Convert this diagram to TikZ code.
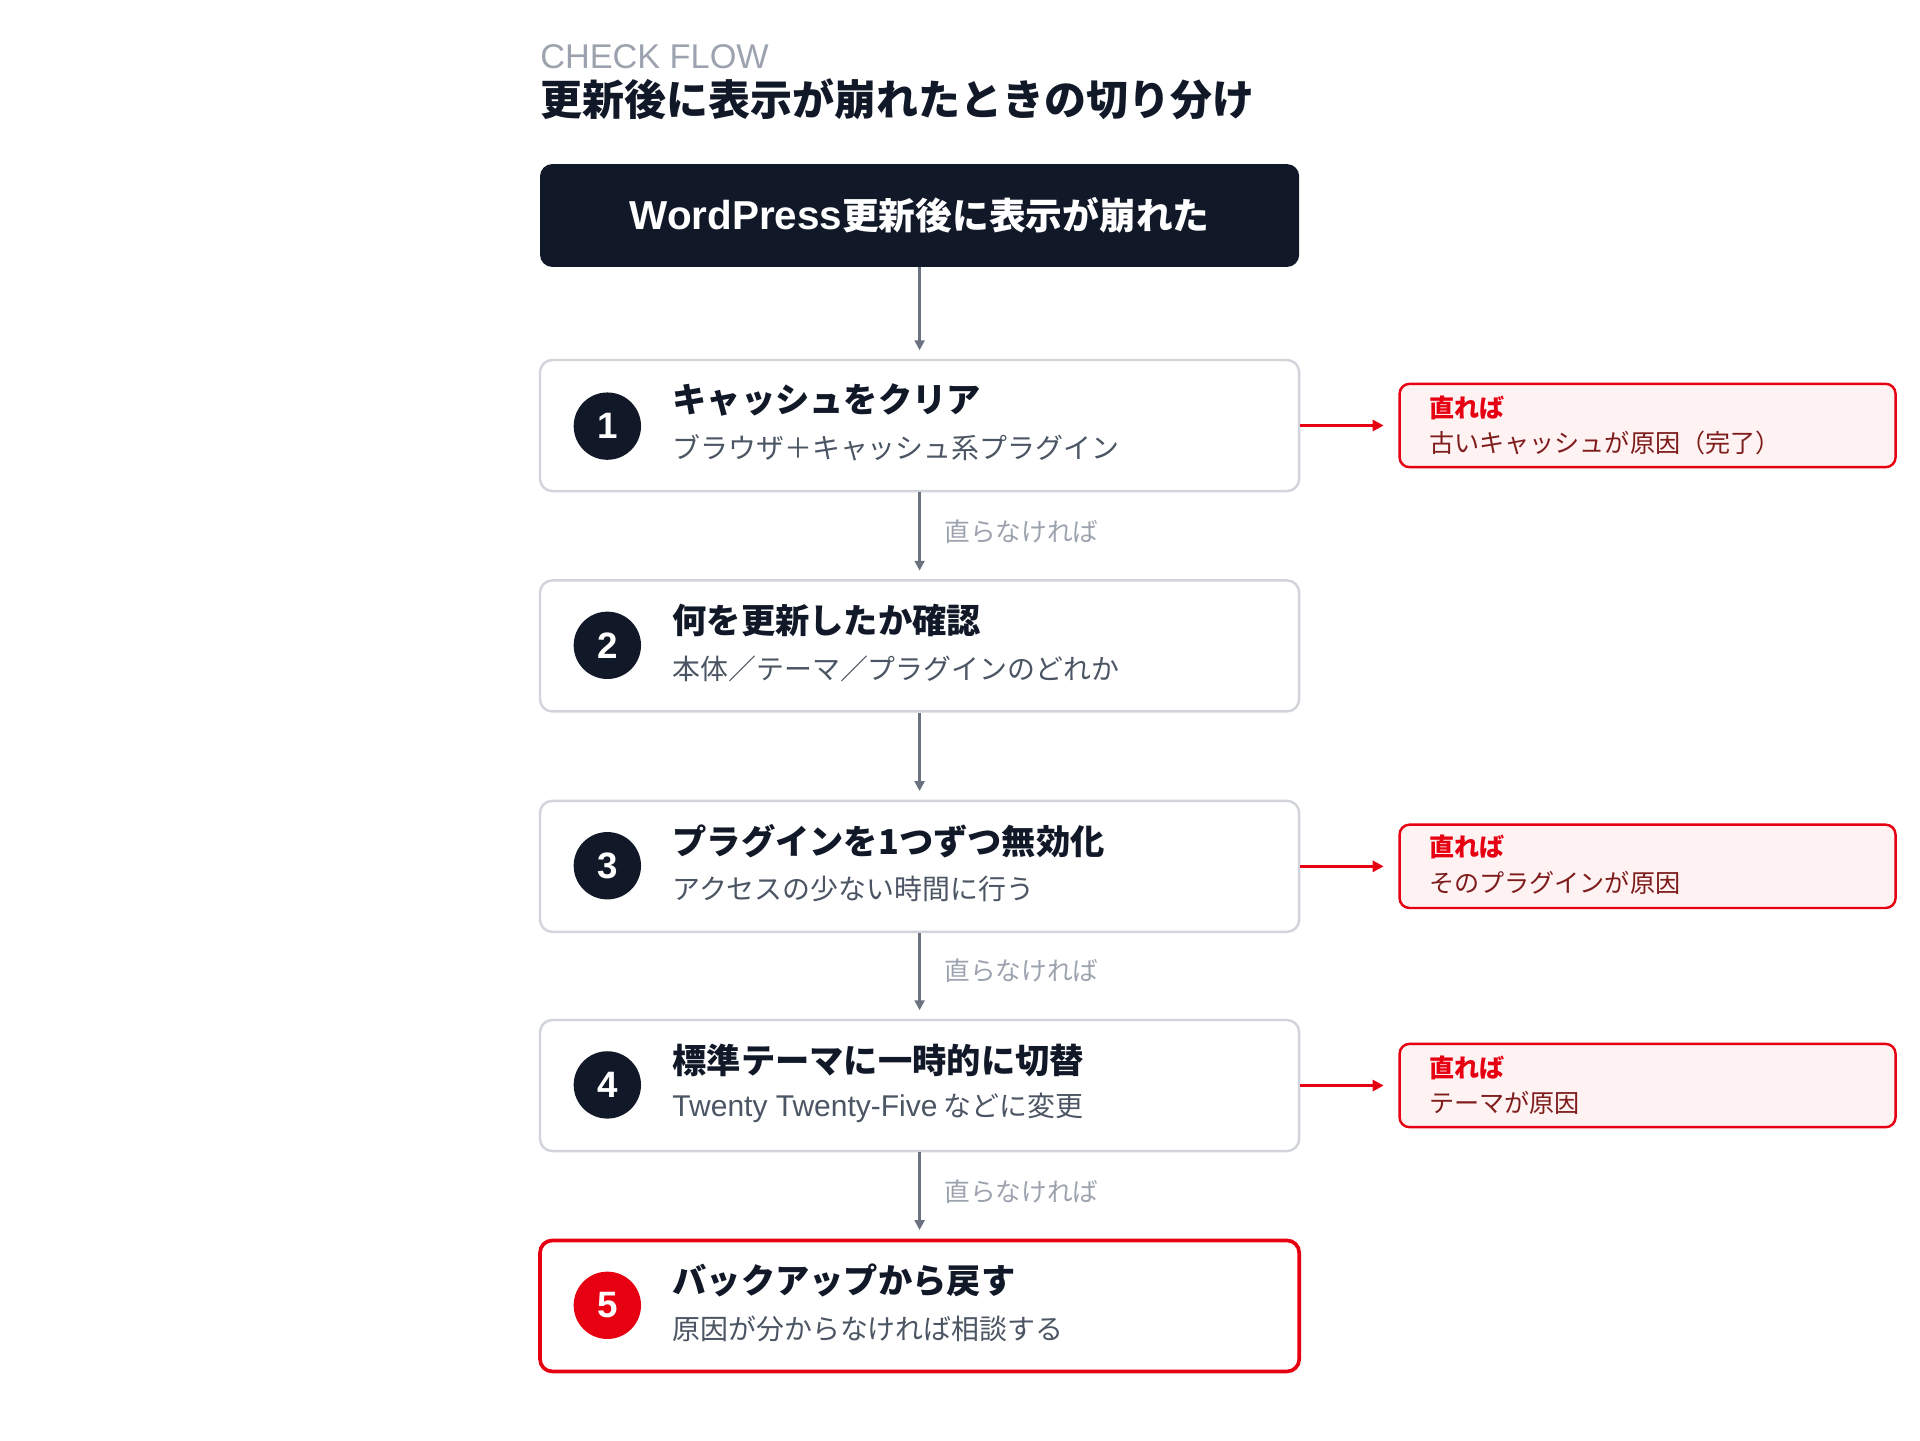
\documentclass[tikz,border=0pt]{standalone}
\usepackage{fontspec}
\setmainfont{Noto Sans CJK JP}
\newfontfamily\latinsans{Liberation Sans}
\usetikzlibrary{arrows.meta}
\definecolor{navy}{HTML}{111827}
\definecolor{arrowgray}{HTML}{6B7280}
\definecolor{bordergray}{HTML}{D1D5DB}
\definecolor{subgray}{HTML}{4B5563}
\definecolor{lightgray}{HTML}{9CA3AF}
\definecolor{brandred}{HTML}{E60012}
\definecolor{pinkfill}{HTML}{FEF2F2}
\definecolor{darkred}{HTML}{7F1D1D}
\tikzset{
  stepbox/.style={draw=bordergray, line width=2pt, rounded corners=10pt, fill=white,
    minimum width=620pt, minimum height=107pt, inner sep=0pt},
  finalbox/.style={stepbox, draw=brandred, line width=3pt},
  numcircle/.style={circle, fill=navy, minimum size=55pt, inner sep=0pt, text=white,
    font=\latinsans\fontsize{30}{32}\selectfont\bfseries},
  steptitle/.style={anchor=west, text=navy, inner sep=0pt, font=\fontsize{28}{32}\selectfont\bfseries},
  stepsub/.style={anchor=west, text=subgray, inner sep=0pt, font=\fontsize{22.8}{26}\selectfont},
  flowlabel/.style={anchor=west, text=lightgray, inner sep=0pt, font=\fontsize{21}{24}\selectfont},
  arr/.style={draw=arrowgray, line width=2.2pt, -{Triangle[length=8pt,width=8pt]}, shorten >=7pt},
  redarr/.style={draw=brandred, line width=2.5pt, -{Triangle[length=9pt,width=9pt]}, shorten >=12pt},
  resultbox/.style={draw=brandred, fill=pinkfill, line width=2pt, rounded corners=8pt,
    minimum width=405pt, minimum height=68pt, inner sep=0pt},
  resulthead/.style={anchor=west, text=brandred, inner sep=0pt, font=\fontsize{20.5}{24}\selectfont\bfseries},
  resulttext/.style={anchor=west, text=darkred, inner sep=0pt, font=\fontsize{20.5}{24}\selectfont},
}
\begin{document}
\begin{tikzpicture}[x=1pt,y=-1pt]
\useasboundingbox (0,0) rectangle (1568,1176);
\fill[white] (0,0) rectangle (1568,1176);

% header
\node[anchor=west, inner sep=0pt, text=lightgray, font=\latinsans\fontsize{28}{30}\selectfont] (kicker) at (441,46) {CHECK FLOW};
\node[anchor=west, inner sep=0pt, text=navy, font=\fontsize{34.3}{40}\selectfont\bfseries] (title) at (441,81) {更新後に表示が崩れたときの切り分け};

% start box
\node[fill=navy, rounded corners=10pt, minimum width=620pt, minimum height=84pt, inner sep=0pt,
  text=white, font=\fontsize{30}{36}\selectfont\bfseries] (start) at (751,176)
  {{\latinsans\fontsize{33}{36}\selectfont WordPress}更新後に表示が崩れた};

% steps
\node[stepbox] (s1) at (751,347.5) {};
\node[stepbox] (s2) at (751,527.5) {};
\node[stepbox] (s3) at (751,707.5) {};
\node[stepbox] (s4) at (751,886.5) {};
\node[finalbox] (s5) at (751,1066.5) {};

\node[numcircle] (n1) at (496,348) {1};
\node[numcircle] (n2) at (496,527) {2};
\node[numcircle] (n3) at (496,707) {3};
\node[numcircle] (n4) at (496,886) {4};
\node[numcircle, fill=brandred] (n5) at (496,1066) {5};

\node[steptitle] (t1) at (549,327) {キャッシュをクリア};
\node[stepsub] (u1) at (549,366) {ブラウザ＋キャッシュ系プラグイン};
\node[steptitle] (t2) at (549,507) {何を更新したか確認};
\node[stepsub] (u2) at (549,546) {本体／テーマ／プラグインのどれか};
\node[steptitle] (t3) at (549,687) {プラグインを1つずつ無効化};
\node[stepsub] (u3) at (549,726) {アクセスの少ない時間に行う};
\node[steptitle] (t4) at (549,866) {標準テーマに一時的に切替};
\node[stepsub] (u4) at (549,905) {{\latinsans\fontsize{24.5}{26}\selectfont Twenty Twenty-Five} などに変更};
\node[steptitle] (t5) at (549,1046) {バックアップから戻す};
\node[stepsub] (u5) at (549,1085) {原因が分からなければ相談する};

% vertical arrows
\draw[arr] (start.south) -- (s1.north);
\draw[arr] (s1.south) -- (s2.north);
\draw[arr] (s2.south) -- (s3.north);
\draw[arr] (s3.south) -- (s4.north);
\draw[arr] (s4.south) -- (s5.north);

\node[flowlabel] (l1) at (771,434) {直らなければ};
\node[flowlabel] (l3) at (771,793) {直らなければ};
\node[flowlabel] (l4) at (771,973) {直らなければ};

% result boxes
\node[resultbox] (r1) at (1345.5,347.5) {};
\node[resultbox] (r3) at (1345.5,707.5) {};
\node[resultbox] (r4) at (1345.5,886.5) {};

\node[resulthead] (h1) at (1167,333) {直れば};
\node[resulttext] (x1) at (1167,362) {古いキャッシュが原因（完了）};
\node[resulthead] (h3) at (1167,692) {直れば};
\node[resulttext] (x3) at (1167,721) {そのプラグインが原因};
\node[resulthead] (h4) at (1167,872) {直れば};
\node[resulttext] (x4) at (1167,901) {テーマが原因};

\draw[redarr] (s1.east) -- (r1.west);
\draw[redarr] (s3.east) -- (r3.west);
\draw[redarr] (s4.east) -- (r4.west);
\end{tikzpicture}
\end{document}
